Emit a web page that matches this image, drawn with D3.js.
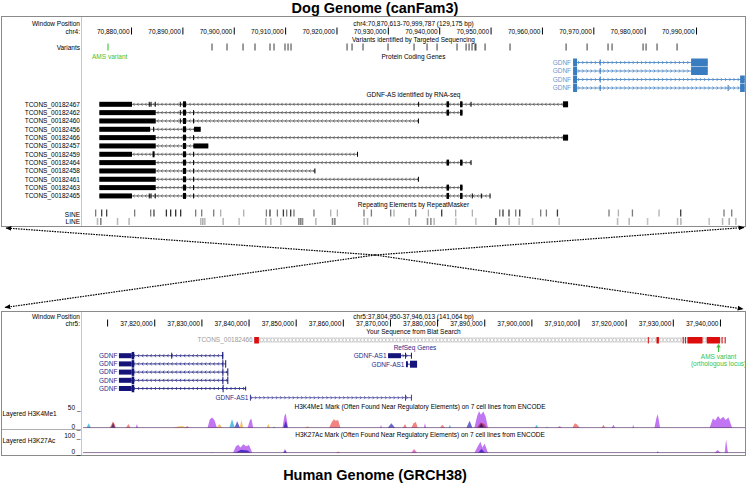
<!DOCTYPE html>
<html><head><meta charset="utf-8">
<script src="https://cdn.jsdelivr.net/npm/d3@7"></script>
<style>
body{margin:0;background:#fff}
text{font-family:"Liberation Sans",Arial,Helvetica,sans-serif}
</style>
</head><body>
<svg id="c" width="749" height="483"></svg>
<script>
// ---------------- DATA (positions in kb) ----------------
const dogDomain = [70870.613, 70999.787];
const humDomain = [37804.950, 37946.013];
const dogTicks = [70880,70890,70900,70910,70920,70930,70940,70950,70960,70970,70980,70990];
const humTicks = [37810,37820,37830,37840,37850,37860,37870,37880,37890,37900,37910,37920,37930,37940];

const amsVariant = [70875.52];
const dogVariants = [70895.77,70898.69,70901.81,70904.14,70907.06,70907.84,70909.98,70910.57,70911.15,
  70922.06,70923.03,70925.17,70930.04,70935.10,70937.63,70939.58,70943.47,70945.23,70945.81,70946.39,
  70946.98,70947.15,70948.93,70953.79,70964.70,70968.79,70972.87,70973.65,70979.69,70980.27,70982.41,70986.31];

const dogGdnfExons = [
  [[70966.06,70966.84,8],[70971.25,70971.45,6],[70989.04,70992.29,8]],
  [[70966.06,70966.84,8],[70971.25,70971.45,6],[70989.04,70992.29,8]],
  [[70966.06,70966.84,8],[70971.25,70971.45,6],[70998.58,70999.49,8]],
  [[70966.06,70966.84,8],[70971.25,70971.45,6],[70996.15,70996.35,6],[70998.58,70999.49,8]]
];

const tconsNames = ["TCONS_00182467","TCONS_00182462","TCONS_00182460","TCONS_00182456","TCONS_00182466",
  "TCONS_00182457","TCONS_00182459","TCONS_00182464","TCONS_00182458","TCONS_00182461","TCONS_00182463","TCONS_00182465"];
const tconsExons = [
  [[70873.83,70880.19,5],[70883.45,70883.6,5],[70883.8,70883.95,5],[70884.62,70884.77,5],[70889.5,70889.65,5],[70890.12,70890.71,6],[70935.9,70936.05,5],[70941.43,70941.92,6],[70944.06,70944.54,6],[70946.1,70946.25,5],[70964.11,70965.09,6]],
  [[70873.83,70884.81,5],[70889.5,70889.65,5],[70890.12,70890.71,6],[70892.08,70892.23,5],[70941.43,70941.92,6],[70944.06,70944.54,6]],
  [[70873.83,70884.81,5],[70889.5,70889.65,5],[70890.12,70890.71,6],[70892.08,70892.23,5],[70935.85,70936.0,5]],
  [[70873.83,70883.70,5],[70884.3,70884.45,5],[70890.12,70890.71,6],[70892.27,70893.57,5]],
  [[70873.83,70884.81,5],[70890.12,70890.71,6],[70892.08,70892.23,5],[70964.11,70965.09,6]],
  [[70873.83,70884.81,5],[70890.12,70890.71,6],[70892.13,70895.05,5]],
  [[70873.83,70880.19,5],[70884.19,70884.58,6],[70890.12,70890.71,6],[70892.08,70892.23,5],[70924.0,70924.14,5]],
  [[70873.83,70884.81,5],[70890.12,70890.71,6],[70892.08,70892.23,5],[70941.43,70941.92,6],[70944.06,70944.54,6],[70946.1,70946.25,5]],
  [[70873.83,70884.81,5],[70890.12,70890.71,6],[70892.08,70892.23,5],[70915.7,70915.85,5]],
  [[70873.83,70884.81,5],[70890.12,70890.71,6],[70892.08,70892.23,5],[70935.85,70936.0,5]],
  [[70873.83,70884.81,5],[70890.12,70890.71,6],[70892.08,70892.23,5],[70941.43,70941.92,6],[70944.06,70944.54,6]],
  [[70873.83,70880.19,5],[70883.45,70883.6,5],[70883.8,70883.95,5],[70884.62,70884.77,5],[70890.12,70890.71,6],[70892.08,70892.23,5],[70941.43,70941.92,6],[70944.06,70944.54,6],[70946.35,70946.5,5],[70948.1,70948.25,5],[70949.8,70949.95,5]]
];

// repeats: [position kb, shade 0 dark .. 1 light]
const sineElems = [[70872.99,.5],[70874.16,.25],[70875.13,.25],[70880.58,.5],[70883.70,.5],[70884.34,.25],[70886.76,.15],[70887.59,.15],[70888.57,.15],[70889.54,.15],
  [70892.46,.5],[70893.63,.5],[70895.97,.5],[70897.33,.75],[70901.81,.75],[70906.23,.5],[70906.93,.2],[70908.37,.5],[70909.54,.2],[70910.18,.5],[70910.96,.2],[70911.60,.5],
  [70915.49,.5],[70918.75,.75],[70920.05,.75],[70925.23,.5],[70926.67,.5],[70930.43,.5],[70931.07,.75],[70935.30,.5],[70937.77,.75],[70940.36,.2],[70943.08,.75],[70946.33,.75],
  [70951.65,.5],[70952.29,.2],[70953.46,.2],[70954.77,.5],[70955.55,.2],[70959.63,.5],[70960.74,.5],[70962.89,.2],[70972.93,.5],[70974.76,.75],[70977.49,.5],[70982.67,.75],
  [70986.89,.2],[70995.32,.5],[70996.82,.5]];
const lineElems = [[70873.32,.8],[70873.96,.55],[70877.22,.8],[70879.47,.8],[70893.43,.8],[70893.82,.75],[70894.21,.8],[70897.78,.8],[70900.89,.85],[70906.09,.8],[70907.06,.8],
  [70909.01,.85],[70912.52,.55],[70912.90,.55],[70913.24,.6],[70915.83,.8],[70919.08,.55],[70919.53,.55],[70925.23,.8],[70925.89,.8],[70933.99,.8],[70937.57,.6],[70938.22,.6],
  [70938.86,.8],[70943.08,.85],[70946.98,.85],[70950.87,.4],[70953.46,.8],[70955.41,.85],[70958.02,.85],[70963.20,.85],[70974.57,.8],[70976.83,.8],[70980.41,.85],[70986.25,.8],
  [70986.89,.8],[70992.40,.85],[70995.01,.8],[70996.30,.75],[70997.60,.8]];

const blatExons = [[37841.21,37842.2],[37924.7,37924.85],[37926.55,37927.05],[37932.1,37932.25],[37932.6,37932.75],[37933.1,37936.3],[37937.2,37940.0],[37940.35,37940.5],[37941.0,37941.1]];

const humGdnfExons = [
  [[37812.51,37815.21,5],[37815.21,37815.76,7.5],[37823.6,37823.75,6],[37834.4,37834.65,7.5]],
  [[37812.51,37815.21,5],[37815.21,37815.76,7.5],[37834.45,37834.6,7.5],[37835.05,37835.2,7.5]],
  [[37812.51,37815.21,5],[37815.21,37815.76,7.5],[37834.45,37834.6,7.5],[37835.5,37835.65,7.5]],
  [[37812.51,37815.21,5],[37815.21,37815.76,7.5],[37834.45,37834.6,7.5],[37835.5,37835.65,7.5]],
  [[37812.51,37815.21,5],[37815.21,37815.76,7.5],[37834.5,37834.65,7.5],[37839.28,37839.4,4]]
];
const humAs1A = [[37869.6,37872.35,5],[37873.2,37873.35,6],[37874.45,37874.6,6]];
const humAs1B = [[37873.4,37873.8,6],[37874.25,37875.75,7]];
const humAs1C = [[37840.3,37840.45,6],[37873.2,37873.35,6],[37874.45,37874.6,6]];

// Histone peaks: [kb, signal]
const k4_GM12878 = [
  [[37810.5,0],[37810.9,8],[37811.2,16],[37811.6,10],[37811.9,0]],
  [[37814.0,0],[37814.5,10],[37815.0,0]],
  [[37857.1,0],[37857.6,14],[37858.1,22],[37858.5,18],[37859.0,20],[37859.5,0]],
  [[37872.7,0],[37873.2,10],[37873.6,0]],
  [[37874.5,0],[37875.0,12],[37875.5,15],[37875.9,0]],
  [[37880.6,0],[37881.1,8],[37881.7,0]],
  [[37888.4,0],[37889.2,14],[37890.0,10],[37890.6,0]],
  [[37908.7,0],[37909.2,12],[37909.7,9],[37910.3,0]],
  [[37914.9,0],[37915.3,8],[37915.7,0]]];
const k4_H1 = [
  [[37823.9,0],[37825.0,4],[37826.0,5],[37826.9,0]],
  [[37833.2,0],[37833.8,10],[37834.5,0]],
  [[37838.1,0],[37838.5,20],[37838.9,0]],
  [[37843.8,0],[37844.2,10],[37844.6,0]],
  [[37852.0,0],[37852.5,5],[37853.0,0]]];
const k4_HSMM = [[[37845.0,0],[37845.4,4],[37845.8,0]],[[37903.0,0],[37903.3,4],[37903.6,0]]];
const k4_HUVEC = [
  [[37805.6,0],[37806.1,12],[37806.6,0]],
  [[37835.9,0],[37836.5,22],[37837.1,0]],
  [[37882.4,0],[37882.7,8],[37883.0,0]],
  [[37900.7,0],[37901.1,8],[37901.5,0]]];
const k4_K562 = [
  [[37810.8,0],[37811.3,14],[37811.7,0]],
  [[37837.0,0],[37837.6,17],[37838.2,0]],
  [[37847.4,0],[37847.9,18],[37848.3,0]],
  [[37869.5,0],[37870.3,12],[37871.1,0]],
  [[37886.2,0],[37886.9,18],[37887.5,0]],
  [[37888.8,0],[37889.4,12],[37890.0,0]]];
const k4_NHEK = [
  [[37816.1,0],[37816.3,10],[37816.6,0]],
  [[37831.3,0],[37831.8,22],[37832.3,26],[37832.8,19],[37833.3,0]],
  [[37839.8,0],[37840.3,20],[37840.6,23],[37841.0,0]],
  [[37847.2,0],[37847.6,30],[37847.9,36],[37848.4,0]],
  [[37867.9,0],[37868.1,8],[37868.3,0]],
  [[37877.2,0],[37877.4,12],[37877.7,0]],
  [[37887.9,0],[37888.5,30],[37888.9,42],[37889.3,33],[37889.8,41],[37890.3,28],[37890.8,0]],
  [[37917.0,0],[37917.4,8],[37917.8,0]],
  [[37921.4,0],[37921.6,8],[37921.8,0]],
  [[37926.1,0],[37926.5,24],[37926.8,35],[37927.3,0]],
  [[37937.8,0],[37938.5,24],[37939.0,19],[37939.6,30],[37940.1,22],[37940.7,28],[37941.2,20],[37941.8,26],[37942.6,0]]];
const k4_NHLF = [[[37826.5,0],[37827.0,5],[37827.5,0]],[[37905.5,0],[37906.0,5],[37906.5,0]]];

const k27_NHEK = [
  [[37836.7,0],[37837.3,40],[37837.8,52],[37838.3,35],[37838.9,55],[37839.5,42],[37840.1,50],[37840.8,0]],
  [[37847.3,0],[37847.7,25],[37848.2,0]],
  [[37887.9,0],[37888.7,45],[37889.2,70],[37889.6,35],[37890.1,58],[37890.8,0]],
  [[37926.5,0],[37926.8,12],[37927.1,0]],
  [[37938.8,0],[37939.5,18],[37940.2,0]],
  [[37941.0,0],[37941.3,85],[37941.7,0]]];
const k27_K562 = [
  [[37837.1,0],[37838.4,20],[37839.8,15],[37840.5,0]],
  [[37847.4,0],[37847.8,15],[37848.1,0]],
  [[37888.7,0],[37889.4,25],[37890.2,0]]];
const k27_GM12878 = [[[37858.5,0],[37859.0,10],[37859.5,0]]];
const k27_NHLF = [[[37874.5,0],[37875.1,25],[37875.8,0]]];
const k27_HUVEC = [[[37832.0,0],[37832.3,5],[37832.6,0]]];

const cellColors = {GM12878:"#f0605c", H1:"#f2b23a", HSMM:"#4cc89a", HUVEC:"#2eb0d8", K562:"#3c3cc0", NHEK:"#b04ef0", NHLF:"#e050b0"};

// ---------------- DRAWING ----------------
const svg = d3.select("#c");
const FONT = 6.5;
function txt(x, y, s, o={}) {
  return svg.append("text").attr("x",x).attr("y",y).text(s)
    .attr("font-size", o.size||FONT).attr("text-anchor", o.anchor||"start")
    .attr("fill", o.fill||"#000").attr("font-weight", o.weight||"normal");
}
const dogX = d3.scaleLinear().domain(dogDomain).range([82.8, 746.3]);
const humX = d3.scaleLinear().domain(humDomain).range([83.3, 748.3]);

const defs = svg.append("defs");
defs.append("clipPath").attr("id","clipTop").append("rect").attr("x",82).attr("y",16).attr("width",663).attr("height",210);
defs.append("clipPath").attr("id","clipBot").append("rect").attr("x",82).attr("y",311).attr("width",663).attr("height",144);
defs.append("marker").attr("id","arr").attr("viewBox","0 0 10 10").attr("refX",9).attr("refY",5)
  .attr("markerWidth",5).attr("markerHeight",5).attr("orient","auto")
  .append("path").attr("d","M0,1 L10,5 L0,9 Z").attr("fill","#000");

// titles
txt(375, 12.5, "Dog Genome (canFam3)", {size:14.5, weight:"bold", anchor:"middle"});
txt(375, 480, "Human Genome (GRCH38)", {size:14.5, weight:"bold", anchor:"middle"});

// panels
svg.append("rect").attr("x",1.5).attr("y",16.5).attr("width",744).attr("height",210).attr("fill","none").attr("stroke","#8a8a8a");
svg.append("rect").attr("x",1.5).attr("y",311.5).attr("width",744).attr("height",144).attr("fill","none").attr("stroke","#8a8a8a");
svg.append("line").attr("x1",81.5).attr("x2",81.5).attr("y1",17).attr("y2",226).attr("stroke","#f2b5b5");
svg.append("line").attr("x1",81.5).attr("x2",81.5).attr("y1",312).attr("y2",455).attr("stroke","#f2b5b5");

// dotted arrows
const cx = 375, cy = 255;
[[6,228],[744,227.5],[5,307.5],[743,309]].forEach(p => {
  svg.append("line").attr("x1",cx).attr("y1",cy).attr("x2",p[0]).attr("y2",p[1])
    .attr("stroke","#000").attr("stroke-width",1.2).attr("stroke-dasharray","1.6,1")
    .attr("marker-end","url(#arr)");
});

function drawAxis(x, ticks, y, hideFirst) {
  const ax = d3.axisTop(x).tickValues(ticks).tickSize(7).tickPadding(0)
    .tickFormat(v => (hideFirst && v===ticks[0]) ? "" : d3.format(",")(Math.round(v*1000)));
  const a = svg.append("g").attr("transform",`translate(0,${y})`).call(ax);
  a.select(".domain").remove();
  a.selectAll(".tick line").attr("stroke","#000");
  a.selectAll(".tick text").attr("text-anchor","end").attr("x",-2).attr("y",-1).attr("dy",0)
    .attr("font-size",FONT).attr("font-family","Liberation Sans, Arial").attr("fill","#000");
}

function chevrons(g, x1, x2, y, dir, step, color, sz) {
  let d = "";
  for (let p = x1 + step/2; p < x2 - 1; p += step) {
    if (dir > 0) d += `M${p-sz*0.8},${y-sz} L${p},${y} L${p-sz*0.8},${y+sz} `;
    else d += `M${p+sz*0.8},${y-sz} L${p},${y} L${p+sz*0.8},${y+sz} `;
  }
  g.append("path").attr("d",d).attr("fill","none").attr("stroke",color).attr("stroke-width",0.7);
}
function drawTranscript(g, x, y, exons, o) {
  const s = d3.min(exons, e => e[0]), e = d3.max(exons, e => e[1]);
  g.append("line").attr("x1",x(s)).attr("x2",x(e)).attr("y1",y).attr("y2",y)
    .attr("stroke",o.line||o.color).attr("stroke-width",0.8);
  chevrons(g, x(s), x(e), y, o.dir, o.step||4, o.line||o.color, o.csz||1.6);
  g.selectAll(null).data(exons).enter().append("rect")
    .attr("x", d => x(d[0])).attr("width", d => Math.max(1, x(d[1]) - x(d[0])))
    .attr("y", d => y - d[2]/2).attr("height", d => d[2]).attr("fill", o.color);
}

// ---------------- TOP PANEL (dog) ----------------
const topG = svg.append("g").attr("clip-path","url(#clipTop)");
txt(80, 26, "Window Position", {anchor:"end"});
txt(80, 33.5, "chr4:", {anchor:"end"});
txt(413.5, 25.5, "chr4:70,870,613-70,999,787 (129,175 bp)", {anchor:"middle"});
drawAxis(dogX, dogTicks, 34.5, false);
txt(413.5, 41.5, "Variants identified by Targeted Sequencing", {anchor:"middle"});
txt(80, 50, "Variants", {anchor:"end"});
topG.selectAll(null).data(dogVariants).enter().append("line")
  .attr("x1", d => dogX(d)).attr("x2", d => dogX(d)).attr("y1",43.5).attr("y2",50.5)
  .attr("stroke","#222").attr("stroke-width",0.9);
topG.selectAll(null).data(amsVariant).enter().append("line")
  .attr("x1", d => dogX(d)).attr("x2", d => dogX(d)).attr("y1",43.5).attr("y2",50.5)
  .attr("stroke","#3cc23c").attr("stroke-width",1.1);
txt(92, 58.5, "AMS variant", {fill:"#3cc23c"});
txt(413.5, 58.5, "Protein Coding Genes", {anchor:"middle"});

dogGdnfExons.forEach((ex, i) => {
  const y = 62.5 + i*8.5;
  txt(dogX(70966.06) - 2, y + 2.3, "GDNF", {anchor:"end", fill:"#6b97cc"});
  drawTranscript(topG, dogX, y, ex, {color:"#3a7cc0", dir:1, step:4.2, csz:1.6});
});
txt(413.5, 97.3, "GDNF-AS identified by RNA-seq", {anchor:"middle"});
tconsExons.forEach((ex, i) => {
  const y = 104.3 + i*8.33;
  txt(80, y + 2.3, tconsNames[i], {anchor:"end"});
  drawTranscript(topG, dogX, y, ex, {color:"#000", line:"#444", dir:-1, step:4, csz:1.5});
});
txt(413.5, 207, "Repeating Elements by RepeatMasker", {anchor:"middle"});
txt(80, 216.5, "SINE", {anchor:"end"});
txt(80, 224, "LINE", {anchor:"end"});
const gray = d3.interpolateRgb("#111", "#e4e4e4");
topG.selectAll(null).data(sineElems).enter().append("rect")
  .attr("x", d => dogX(d[0])).attr("width", 1.3).attr("y",209.5).attr("height",7)
  .attr("fill", d => gray(d[1]));
topG.selectAll(null).data(lineElems).enter().append("rect")
  .attr("x", d => dogX(d[0])).attr("width", 1.6).attr("y",218).attr("height",7)
  .attr("fill", d => gray(d[1]));

// ---------------- BOTTOM PANEL (human) ----------------
const bot = svg.append("g").attr("clip-path","url(#clipBot)");
txt(80, 319, "Window Position", {anchor:"end"});
txt(80, 325.5, "chr5:", {anchor:"end"});
txt(413.5, 318.5, "chr5:37,804,950-37,946,013 (141,064 bp)", {anchor:"middle"});
drawAxis(humX, humTicks, 326.5, true);
txt(413.5, 333.5, "Your Sequence from Blat Search", {anchor:"middle"});

// blat
const bs = d3.min(blatExons, d => d[0]), be = d3.max(blatExons, d => d[1]);
txt(humX(bs) - 1.5, 342.3, "TCONS_00182466", {anchor:"end", fill:"#9a9a9a"});
bot.append("rect").attr("x", humX(bs)).attr("width", humX(be)-humX(bs)).attr("y",338).attr("height",4)
  .attr("fill","none").attr("stroke","#b4b4b4").attr("stroke-width",0.6);
(function(){
  let d = ""; const x1 = humX(bs), x2 = humX(be);
  for (let p = x1 + 2; p < x2 - 2; p += 3.6) {
    d += `M${p-1.2},338 L${p},340 L${p-1.2},342 M${p+1.2},338 L${p},340 L${p+1.2},342 `;
  }
  bot.append("path").attr("d",d).attr("fill","none").attr("stroke","#b4b4b4").attr("stroke-width",0.6);
})();
bot.selectAll(null).data(blatExons).enter().append("rect")
  .attr("x", d => humX(d[0])).attr("width", d => Math.max(1, humX(d[1]) - humX(d[0])))
  .attr("y",337).attr("height",6.5).attr("fill","#dd0d0d");

txt(415, 350, "RefSeq Genes", {anchor:"middle", fill:"#2a2a8a"});
const navy = "#14147a";
humGdnfExons.forEach((ex, i) => {
  const y = 355.7 + i*8.2;
  txt(humX(37812.51) - 1.5, y + 2.3, "GDNF", {anchor:"end", fill:"#2a2a8a"});
  drawTranscript(bot, humX, y, ex, {color:navy, dir:-1, step:4.2, csz:1.5});
});
txt(humX(37869.6) - 1.5, 355.7 + 2.3, "GDNF-AS1", {anchor:"end", fill:"#2a2a8a"});
drawTranscript(bot, humX, 355.7, humAs1A, {color:navy, dir:1, step:3.5, csz:1.4});
txt(humX(37873.4) - 1.5, 364.2 + 2.3, "GDNF-AS1", {anchor:"end", fill:"#2a2a8a"});
drawTranscript(bot, humX, 364.2, humAs1B, {color:navy, dir:1, step:3.5, csz:1.4});
txt(humX(37840.3) - 1.5, 397.7 + 2.3, "GDNF-AS1", {anchor:"end", fill:"#2a2a8a"});
drawTranscript(bot, humX, 397.7, humAs1C, {color:"#3c3c9a", dir:1, step:4.2, csz:1.5});

// AMS orthologous
const amsX = humX(37939.7);
svg.append("line").attr("x1",amsX).attr("x2",amsX).attr("y1",352).attr("y2",346.5).attr("stroke","#3cc23c").attr("stroke-width",1.2);
svg.append("path").attr("d",`M${amsX-2.2},347.5 L${amsX},344 L${amsX+2.2},347.5 Z`).attr("fill","#3cc23c");
txt(amsX, 358.5, "AMS variant", {anchor:"middle", fill:"#3cc23c"});
txt(amsX, 366, "(orthologous locus)", {anchor:"middle", fill:"#3cc23c"});

// histone tracks
const yK4 = d3.scaleLinear().domain([0,50]).range([428,408]);
const yK27 = d3.scaleLinear().domain([0,100]).range([453,437]);
txt(2.5, 416, "Layered H3K4Me1");
txt(80.5, 409.5, "50 _", {anchor:"end"});
txt(80.5, 428.5, "0 _", {anchor:"end"});
svg.append("line").attr("x1",2).attr("x2",81).attr("y1",429.5).attr("y2",429.5).attr("stroke","#9a9a9a").attr("stroke-width",0.8);
txt(2.5, 443, "Layered H3K27Ac");
txt(80.5, 437.5, "100 _", {anchor:"end"});
txt(80.5, 453.5, "0 _", {anchor:"end"});
txt(420, 409, "H3K4Me1 Mark (Often Found Near Regulatory Elements) on 7 cell lines from ENCODE", {anchor:"middle"});
txt(420, 437, "H3K27Ac Mark (Often Found Near Regulatory Elements) on 7 cell lines from ENCODE", {anchor:"middle"});

function layer(series, y, base) {
  const area = d3.area().x(d => humX(d[0])).y0(base).y1(d => y(d[1]));
  series.forEach(([peaks, col]) => {
    bot.append("g").selectAll(null).data(peaks).enter().append("path")
      .attr("d", area).attr("fill", col).attr("fill-opacity",0.78).style("mix-blend-mode","multiply");
  });
  bot.append("line").attr("x1",83).attr("x2",745).attr("y1",base-0.4).attr("y2",base-0.4)
    .attr("stroke","#6a4a7a").attr("stroke-width",1).attr("stroke-opacity",0.75);
}
layer([[k4_GM12878,cellColors.GM12878],[k4_H1,cellColors.H1],[k4_HSMM,cellColors.HSMM],[k4_HUVEC,cellColors.HUVEC],
       [k4_K562,cellColors.K562],[k4_NHEK,cellColors.NHEK],[k4_NHLF,cellColors.NHLF]], yK4, 428);
layer([[k27_GM12878,cellColors.GM12878],[k27_HUVEC,cellColors.HUVEC],[k27_K562,cellColors.K562],
       [k27_NHEK,cellColors.NHEK],[k27_NHLF,cellColors.NHLF]], yK27, 453);
</script>
</body></html>
